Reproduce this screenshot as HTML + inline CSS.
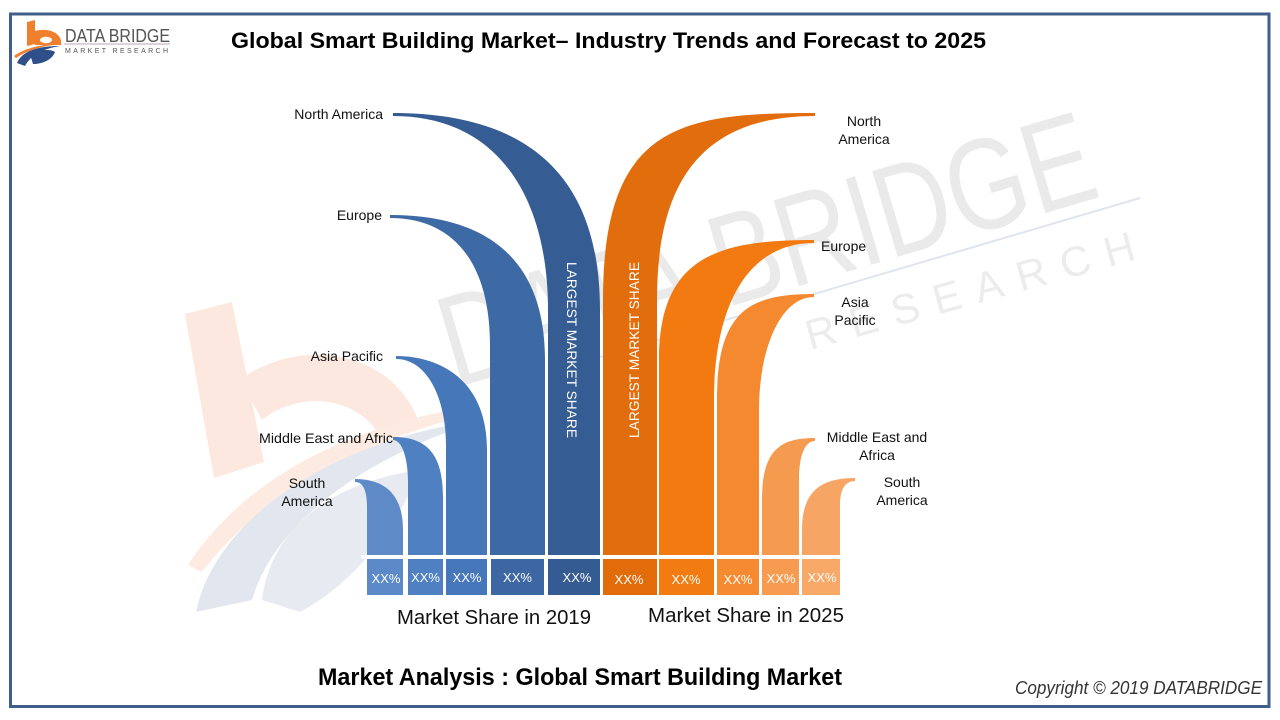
<!DOCTYPE html>
<html><head><meta charset="utf-8"><style>
html,body{margin:0;padding:0;background:#fff;}
svg{display:block;}
text{font-family:"Liberation Sans",sans-serif;}
</style></head><body>
<svg width="1280" height="720" viewBox="0 0 1280 720" xmlns="http://www.w3.org/2000/svg">
<rect width="1280" height="720" fill="#fff"/>

<!-- watermark logo -->
<g>
 <path d="M185,314 L232,302 L264,462 L214,478 Z" fill="#fce8de"/>
 <path d="M240,380 C300,335 395,350 420,425 L382,440 C362,398 302,388 262,420 Z" fill="#fce8de"/>
 <path d="M188,565 C250,470 360,425 472,406 L474,414 C370,438 262,492 202,572 Z" fill="#fdebe2"/>
 <path d="M196,612 C215,520 330,440 482,420 C370,455 275,520 252,600 Z" fill="#e2e7ef"/>
 <path d="M262,600 C270,530 330,482 420,470 C400,520 360,580 300,612 Z" fill="#e7ebf1"/>
</g>
<text transform="translate(455,388) rotate(-16.5)" x="0" y="0" font-size="130" fill="#eaeaea" textLength="676" lengthAdjust="spacingAndGlyphs">DATA BRIDGE</text>
<line x1="600" y1="357" x2="1140" y2="198" stroke="#dfe5ee" stroke-width="2"/>
<text transform="translate(810,350) rotate(-15.5)" x="0" y="0" font-size="42" fill="#ececec" textLength="340" lengthAdjust="spacing">RESEARCH</text>

<!-- 2019 blue columns -->
<path d="M393,113 C510,113 600,160 600,310 L600,555 L548,555 L548,310 C548,200 500,116 393,116 Z" fill="#355d93"/>
<path d="M390,215 C470,215 545,245 545,360 L545,555 L490,555 L490,345 C490,265 455,218 390,218 Z" fill="#3d69a4"/>
<path d="M396,356 C440,356 487,380 487,450 L487,555 L446,555 L446,445 C446,400 428,359 396,359 Z" fill="#4677b9"/>
<path d="M393,437 C425,437 443,452 443,497 L443,555 L408,555 L408,482 C408,458 402,440 393,440 Z" fill="#4f80c1"/>
<path d="M355,479 C380,479 403,490 403,530 L403,555 L367,555 L367,508 C367,490 363,482 355,482 Z" fill="#5e8bc8"/>

<!-- 2025 orange columns -->
<path d="M815,113 C680,113 603,125 603,300 L603,555 L657,555 L657,300 C657,190 695,116 815,116 Z" fill="#e26d0d"/>
<path d="M814,240 C720,240 659,255 659,360 L659,555 L714,555 L714,400 C714,310 745,243 814,243 Z" fill="#f27a10"/>
<path d="M814,294 C750,294 717,310 717,400 L717,555 L759,555 L759,410 C759,350 780,297 814,297 Z" fill="#f4892f"/>
<path d="M815,438 C780,438 762,450 762,500 L762,555 L799,555 L799,480 C799,455 805,441 815,441 Z" fill="#f59b4f"/>
<path d="M855,478 C820,478 802,492 802,530 L802,555 L840,555 L840,505 C840,488 846,481 855,481 Z" fill="#f7a564"/>

<!-- separator line -->
<rect x="361" y="555" width="480" height="3.5" fill="#fff"/>

<!-- boxes -->
<rect x="367" y="559" width="36" height="36" fill="#5c8ac8"/>
<rect x="408" y="559" width="35" height="36" fill="#4f80c2"/>
<rect x="446" y="559" width="41" height="36" fill="#4677bb"/>
<rect x="491" y="559" width="53" height="36" fill="#3c67a3"/>
<rect x="548" y="559" width="52" height="36" fill="#355c92"/>
<rect x="603" y="559" width="54" height="36" fill="#e36c0a"/>
<rect x="659" y="559" width="55" height="36" fill="#f27c12"/>
<rect x="717" y="559" width="42" height="36" fill="#f58a30"/>
<rect x="762" y="559" width="37" height="36" fill="#f69b4f"/>
<rect x="802" y="559" width="38" height="36" fill="#f8a867"/>

<g font-size="13" fill="#fff" text-anchor="middle">
 <text x="386" y="583">XX%</text>
 <text x="425.5" y="582">XX%</text>
 <text x="467" y="582">XX%</text>
 <text x="517.5" y="582">XX%</text>
 <text x="577" y="582">XX%</text>
 <text x="629" y="584">XX%</text>
 <text x="686" y="584">XX%</text>
 <text x="738" y="584">XX%</text>
 <text x="781" y="583">XX%</text>
 <text x="822" y="582">XX%</text>
</g>

<!-- vertical labels -->
<text transform="translate(567,350) rotate(90)" x="0" y="0" font-size="14" fill="#fff" text-anchor="middle" textLength="176" lengthAdjust="spacingAndGlyphs">LARGEST MARKET SHARE</text>
<text transform="translate(639,350) rotate(-90)" x="0" y="0" font-size="14" fill="#fff" text-anchor="middle" textLength="176" lengthAdjust="spacingAndGlyphs">LARGEST MARKET SHARE</text>

<!-- left labels -->
<g font-size="14" fill="#111">
 <text x="383" y="119" text-anchor="end">North America</text>
 <text x="382" y="220" text-anchor="end">Europe</text>
 <text x="383" y="361" text-anchor="end">Asia Pacific</text>
 <text x="259" y="443" textLength="134" lengthAdjust="spacingAndGlyphs">Middle East and Afric</text>
 <text x="307" y="488" text-anchor="middle">South</text>
 <text x="307" y="506" text-anchor="middle">America</text>
</g>
<!-- right labels -->
<g font-size="14" fill="#111" text-anchor="middle">
 <text x="864" y="126">North</text>
 <text x="864" y="144">America</text>
 <text x="821" y="251" text-anchor="start">Europe</text>
 <text x="855" y="307">Asia</text>
 <text x="855" y="325">Pacific</text>
 <text x="877" y="442">Middle East and</text>
 <text x="877" y="460">Africa</text>
 <text x="902" y="487">South</text>
 <text x="902" y="505">America</text>
</g>

<!-- captions -->
<text x="397" y="624" font-size="20" fill="#111" textLength="194" lengthAdjust="spacingAndGlyphs">Market Share in 2019</text>
<text x="648" y="622" font-size="20" fill="#111" textLength="196" lengthAdjust="spacingAndGlyphs">Market Share in 2025</text>

<!-- title -->
<text x="231" y="48" font-size="22" font-weight="bold" fill="#000" textLength="755" lengthAdjust="spacingAndGlyphs">Global Smart Building Market– Industry Trends and Forecast to 2025</text>
<text x="318" y="685" font-size="24" font-weight="bold" fill="#000" textLength="524" lengthAdjust="spacingAndGlyphs">Market Analysis : Global Smart Building Market</text>
<text x="1015" y="694" font-size="18" font-style="italic" fill="#333" textLength="247" lengthAdjust="spacingAndGlyphs">Copyright © 2019 DATABRIDGE</text>

<!-- logo -->
<g>
 <path d="M27,22 L35,20 L35,44 L27,46 Z" fill="#f07f2e"/>
 <path d="M35,31 C50,27 63,34 61,45 L35,45 Z" fill="#f07f2e"/>
 <ellipse cx="46" cy="40" rx="6" ry="3.2" fill="#fff"/>
 <path d="M14,56 C25,48 42,44 60,44 C42,46 28,50 16,58 Z" fill="#f07f2e"/>
 <path d="M17,63 C22,51 38,46 60,46 C42,49 31,55 25,66 Z" fill="#2f4f8a"/>
 <path d="M30,54 C38,49 52,49 55,52 C52,60 42,64 33,64 Z" fill="#2f4f8a"/>
 <text x="65" y="42" font-size="18" fill="#555" textLength="105" lengthAdjust="spacingAndGlyphs">DATA BRIDGE</text>
 <line x1="64" y1="44" x2="170" y2="44" stroke="#b9a7b5" stroke-width="1"/>
 <text x="65" y="53" font-size="7" fill="#555" textLength="103" lengthAdjust="spacing">MARKET RESEARCH</text>
</g>

<!-- border -->
<rect x="10.5" y="14" width="1258.5" height="692.5" fill="none" stroke="#3f5f8a" stroke-width="3"/>
</svg>
</body></html>
